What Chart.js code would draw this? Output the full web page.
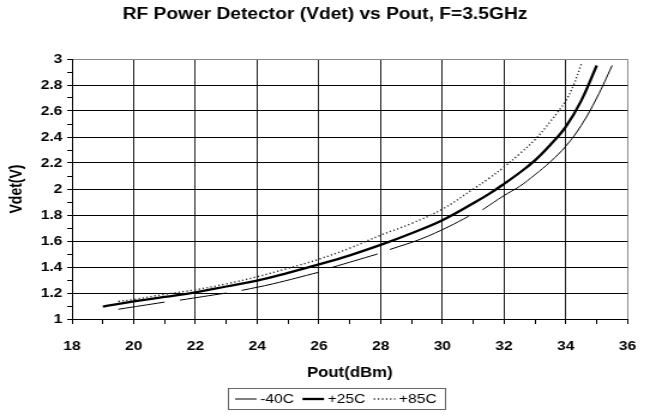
<!DOCTYPE html>
<html lang="en">

<head>
  <script src="https://cdn.jsdelivr.net/npm/chart.js@4.4.0/dist/chart.umd.min.js"></script>
  <title>RF Power Detector (Vdet) vs Pout</title>
  <style>
    body { margin: 0; background: #fff; }
  </style>
</head>

<body>

  <!-- drawn at 542 wide and stretched to 650, the reference is a widened picture -->
  <canvas id="myChart" width="542" height="417" style="width:650px;height:417px"></canvas>

  <script>
    // Pout (dBm) / Vdet (V). null = break in the -40C trace
    var pout40 = [19.5, 21.0, null, 21.5, 23.0, null, 23.5, 24.5, 26.0, null, 26.4, 27.9, null,
      28.3, 29.3, 30.2, 30.85, null, 31.3, 32, 32.5, 33, 33.5, 34, 34.5, 35, 35.5];
    var vdet40 = [1.075, 1.13, null, 1.145, 1.2, null, 1.22, 1.27, 1.36, null, 1.395, 1.5, null,
      1.535, 1.615, 1.71, 1.79, null, 1.84, 1.95, 2.02, 2.11, 2.21, 2.33, 2.49, 2.7, 2.95];

    var pout25 = [19, 20, 21, 22, 23, 24, 25, 26, 27, 28, 29, 30, 31, 31.5, 32, 32.5, 33, 33.5,
      34, 34.5, 35];
    var vdet25 = [1.095, 1.135, 1.17, 1.205, 1.25, 1.295, 1.355, 1.42, 1.49, 1.57, 1.66, 1.76,
      1.89, 1.96, 2.04, 2.125, 2.22, 2.34, 2.48, 2.68, 2.95];

    var pout85 = [19.5, 20, 21, 22, 23, 24, 25, 26, 27, 28, 29, 30, 31, 31.5, 32, 32.5, 33, 33.5,
      34, 34.25, 34.5];
    var vdet85 = [1.135, 1.15, 1.19, 1.225, 1.27, 1.325, 1.39, 1.46, 1.545, 1.645, 1.735, 1.845,
      2.0, 2.08, 2.17, 2.27, 2.38, 2.52, 2.68, 2.8, 2.96];

    var seriesLabels = ['-40C', '+25C', '+85C'];
    var xTicks = [18, 20, 22, 24, 26, 28, 30, 32, 34, 36];
    var yTicks = [1, 1.2, 1.4, 1.6, 1.8, 2, 2.2, 2.4, 2.6, 2.8, 3];

    function toPoints(xs, ys) {
      return xs.map(function(x, i) {
        return { x: x, y: ys[i] };
      });
    }

    var FONT = '"Liberation Sans", Arial, sans-serif';

    // boxed legend under the axis title, like the original
    var boxedLegend = {
      id: 'boxedLegend',
      afterDraw: function(chart) {
        var ctx = chart.ctx;
        ctx.save();
        ctx.strokeStyle = '#666';
        ctx.lineWidth = 1;
        ctx.strokeRect(190.5, 388.5, 181, 21);
        ctx.font = '13px ' + FONT;
        ctx.textBaseline = 'middle';
        ctx.fillStyle = '#000';
        var x = 196, y = 399;
        chart.data.datasets.forEach(function(ds) {
          ctx.beginPath();
          ctx.lineWidth = ds.borderWidth;
          ctx.strokeStyle = ds.borderColor;
          ctx.setLineDash(ds.borderDash || []);
          ctx.moveTo(x, y);
          ctx.lineTo(x + 18, y);
          ctx.stroke();
          ctx.setLineDash([]);
          ctx.fillText(ds.label, x + 21, y);
          x += 21 + ctx.measureText(ds.label).width + 7;
        });
        ctx.restore();
      }
    };

    const data = {
      datasets: [{
        label: seriesLabels[0],
        data: toPoints(pout40, vdet40),
        borderColor: '#000',
        borderWidth: 1,
        spanGaps: false
      }, {
        label: seriesLabels[1],
        data: toPoints(pout25, vdet25),
        borderColor: '#000',
        borderWidth: 2.3
      }, {
        label: seriesLabels[2],
        data: toPoints(pout85, vdet85),
        borderColor: '#222',
        borderWidth: 1.4,
        borderDash: [1.2, 2.2]
      }]
    };

    const config = {
      type: 'line',
      data: data,
      plugins: [boxedLegend],
      options: {
        responsive: false,
        animation: false,
        devicePixelRatio: 1,
        elements: {
          point: { radius: 0 },
          line: { tension: 0.4, fill: false }
        },
        plugins: {
          legend: { display: false },
          tooltip: { enabled: false },
          title: {
            display: true,
            text: 'RF Power Detector (Vdet) vs Pout, F=3.5GHz',
            color: '#000',
            font: { family: FONT, size: 16, weight: 'bold' },
            padding: { top: 5, bottom: 34.8 }
          }
        },
        scales: {
          x: {
            type: 'linear',
            min: 18,
            max: 36,
            afterFit: function(scale) {
              scale.height = 98;
              scale.paddingRight = 18.7;
            },
            ticks: {
              stepSize: 1,
              autoSkip: false,
              maxRotation: 0,
              padding: 15,
              color: '#000',
              font: { family: FONT, size: 13, weight: 'bold' },
              callback: function(v) {
                return xTicks.indexOf(v) >= 0 ? String(v) : '';
              }
            },
            grid: {
              tickLength: 5,
              tickColor: '#000',
              color: function(c) {
                var v = c.tick.value;
                if (xTicks.indexOf(v) < 0) return 'rgba(0,0,0,0)';
                return v === 36 ? '#888' : '#222';
              }
            },
            border: { color: '#000' },
            title: {
              display: true,
              text: 'Pout(dBm)',
              color: '#000',
              font: { family: FONT, size: 14, weight: 'bold' },
              padding: { top: 0, bottom: 35.6 }
            }
          },
          y: {
            min: 1,
            max: 3,
            afterFit: function(scale) {
              scale.width = 60;
            },
            ticks: {
              stepSize: 0.1,
              autoSkip: false,
              padding: 4,
              color: '#000',
              font: { family: FONT, size: 13, weight: 'bold' },
              callback: function(v) {
                var r = Math.round(v * 10) / 10;
                return yTicks.indexOf(r) >= 0 ? String(r) : '';
              }
            },
            grid: {
              tickLength: 4,
              tickColor: '#000',
              color: function(c) {
                var r = Math.round(c.tick.value * 10) / 10;
                if (yTicks.indexOf(r) < 0) return 'rgba(0,0,0,0)';
                return r === 3 ? '#888' : '#000';
              }
            },
            border: { color: '#000' },
            title: {
              display: true,
              text: 'Vdet(V)',
              color: '#000',
              font: { family: FONT, size: 14, weight: 'bold' },
              padding: { top: 5.5, bottom: 0 }
            }
          }
        }
      }
    };

    var myChart = new Chart(
      document.getElementById('myChart'),
      config
    );
  </script>
</body>

</html>
